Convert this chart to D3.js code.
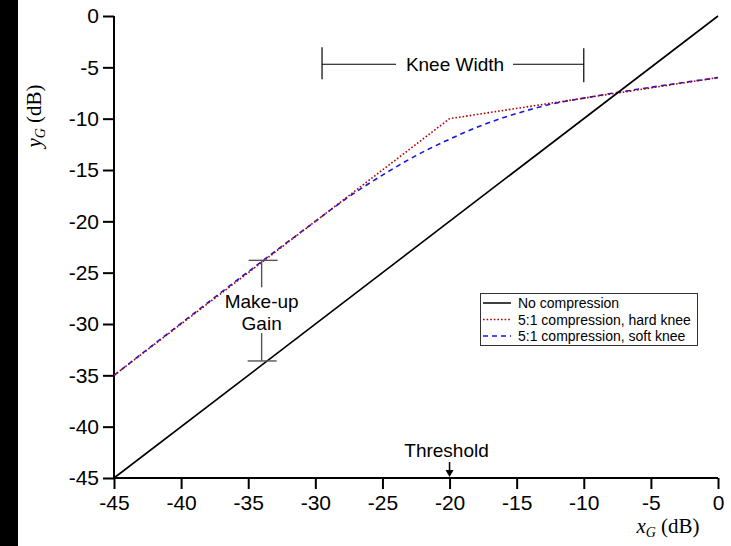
<!DOCTYPE html>
<html>
<head>
<meta charset="utf-8">
<script src="https://cdn.jsdelivr.net/npm/d3@7"></script>
<style>
  body { margin: 0; background: #fff; }
  svg { display: block; }
</style>
</head>
<body>
<div id="vis"></div>
<script>
// chart values
const xTicks = [-45, -40, -35, -30, -25, -20, -15, -10, -5, 0];
const yTicks = [0, -5, -10, -15, -20, -25, -30, -35, -40, -45];

const noCompX = [-45, 0];
const noCompY = [-45, 0];

const hardX = [-45, -20, 0];
const hardY = [-35, -10, -6];

const softX = [-45, -30, -27.5, -25, -22.5, -20, -17.5, -15, -12.5, -10, 0];
const softY = [-35, -20, -17.6, -15.5, -13.6, -12, -10.6, -9.5, -8.6, -8, -6];

const seriesNames = ['No compression', '5:1 compression, hard knee', '5:1 compression, soft knee'];

// annotations (data units)
const threshold = -20;
const kneeStart = -29.5, kneeEnd = -10, kneeY = -4.7;
const makeupX = -34, makeupTop = -23.8, makeupBottom = -33.6;

let W = 731, H = 546;
let svg = d3.select('#vis').append('svg')
  .attr('width', W)
  .attr('height', H);

// black strip on the left edge
svg.append('rect')
  .attr('x', 0).attr('y', 0)
  .attr('width', 18).attr('height', H)
  .attr('fill', '#000');

let x = d3.scaleLinear().domain([-45, 0]).range([114, 718]);
let y = d3.scaleLinear().domain([-45, 0]).range([478, 16]);

const sans = '"Liberation Sans", Arial, sans-serif';
const serif = '"Liberation Serif", "Times New Roman", serif';
const fmt = d => String(d); // plain hyphen minus like the original

// axes
let xAxis = svg.append('g')
  .attr('transform', 'translate(0,' + y(-45) + ')')
  .call(d3.axisBottom(x).tickValues(xTicks).tickFormat(fmt).tickSize(11).tickPadding(6).tickSizeOuter(0));
let yAxis = svg.append('g')
  .attr('transform', 'translate(' + x(-45) + ',0)')
  .call(d3.axisLeft(y).tickValues(yTicks).tickFormat(fmt).tickSize(11).tickPadding(4).tickSizeOuter(0));

[xAxis, yAxis].forEach(function(a) {
  a.selectAll('path, line').attr('stroke', '#000').attr('stroke-width', 2);
  a.selectAll('text').attr('fill', '#000').style('font-family', sans).style('font-size', '21px');
});
xAxis.select('path').attr('d', 'M' + (x(-45) - 1) + ',0H' + x(0));
yAxis.select('path').attr('d', 'M0,' + (y(-45) + 1) + 'V' + y(0));

// axis titles
let yt = svg.append('text')
  .attr('transform', 'translate(41,116) rotate(-90)')
  .attr('text-anchor', 'middle')
  .style('font-family', serif).style('font-size', '21px');
yt.append('tspan').style('font-style', 'italic').text('y');
yt.append('tspan').style('font-style', 'italic').style('font-size', '14px').attr('dy', 4).text('G');
yt.append('tspan').attr('dy', -4).text(' (dB)');

let xt = svg.append('text')
  .attr('x', 668).attr('y', 533)
  .attr('text-anchor', 'middle')
  .style('font-family', serif).style('font-size', '21px');
xt.append('tspan').style('font-style', 'italic').text('x');
xt.append('tspan').style('font-style', 'italic').style('font-size', '14px').attr('dy', 4).text('G');
xt.append('tspan').attr('dy', -4).text(' (dB)');

// lines
let line = d3.line().x(d => x(d[0])).y(d => y(d[1]));
let smooth = d3.line().x(d => x(d[0])).y(d => y(d[1])).curve(d3.curveMonotoneX);

svg.append('path')
  .datum(d3.zip(softX, softY))
  .attr('fill', 'none')
  .attr('stroke', '#1515e6')
  .attr('stroke-width', 1.6)
  .attr('stroke-dasharray', '5,4')
  .attr('d', smooth);

svg.append('path')
  .datum(d3.zip(hardX, hardY))
  .attr('fill', 'none')
  .attr('stroke', '#b00000')
  .attr('stroke-width', 1.6)
  .attr('stroke-dasharray', '1.6,2')
  .attr('d', line);

svg.append('path')
  .datum(d3.zip(noCompX, noCompY))
  .attr('fill', 'none')
  .attr('stroke', '#000')
  .attr('stroke-width', 1.6)
  .attr('d', line);

// knee width annotation
let kn = svg.append('g').attr('stroke', '#000').attr('stroke-width', 1.2);
kn.append('line').attr('x1', x(kneeStart)).attr('x2', x(kneeStart)).attr('y1', y(kneeY) - 17).attr('y2', y(kneeY) + 15);
kn.append('line').attr('x1', x(kneeEnd)).attr('x2', x(kneeEnd)).attr('y1', y(kneeY) - 16).attr('y2', y(kneeY) + 18);
kn.append('line').attr('x1', x(kneeStart)).attr('x2', 396).attr('y1', y(kneeY)).attr('y2', y(kneeY));
kn.append('line').attr('x1', 513).attr('x2', x(kneeEnd)).attr('y1', y(kneeY)).attr('y2', y(kneeY));
svg.append('text')
  .attr('x', 455).attr('y', y(kneeY) + 7)
  .attr('text-anchor', 'middle')
  .style('font-family', sans).style('font-size', '19px')
  .text('Knee Width');

// make-up gain annotation
let mg = svg.append('g').attr('stroke', '#555').attr('stroke-width', 1.4);
mg.append('line').attr('x1', x(makeupX) - 13).attr('x2', x(makeupX) + 16).attr('y1', y(makeupTop)).attr('y2', y(makeupTop));
mg.append('line').attr('x1', x(makeupX)).attr('x2', x(makeupX)).attr('y1', y(makeupTop)).attr('y2', y(makeupTop) + 27);
mg.append('line').attr('x1', x(makeupX)).attr('x2', x(makeupX)).attr('y1', y(makeupBottom) - 28).attr('y2', y(makeupBottom));
mg.append('line').attr('x1', x(makeupX) - 14).attr('x2', x(makeupX) + 15).attr('y1', y(makeupBottom)).attr('y2', y(makeupBottom));
svg.append('text')
  .attr('x', x(makeupX)).attr('y', 308)
  .attr('text-anchor', 'middle')
  .style('font-family', sans).style('font-size', '19px')
  .text('Make-up');
svg.append('text')
  .attr('x', x(makeupX)).attr('y', 330)
  .attr('text-anchor', 'middle')
  .style('font-family', sans).style('font-size', '19px')
  .text('Gain');

// threshold annotation
svg.append('text')
  .attr('x', x(threshold) - 3).attr('y', 457)
  .attr('text-anchor', 'middle')
  .style('font-family', sans).style('font-size', '19px')
  .text('Threshold');
svg.append('line')
  .attr('x1', x(threshold)).attr('x2', x(threshold))
  .attr('y1', 462).attr('y2', 474)
  .attr('stroke', '#000').attr('stroke-width', 1.5);
svg.append('path')
  .attr('d', 'M' + (x(threshold) - 4) + ',470L' + x(threshold) + ',477L' + (x(threshold) + 4) + ',470Z')
  .attr('fill', '#000');

// legend
let legend = svg.append('g');
legend.append('rect')
  .attr('x', 480.5).attr('y', 293.5)
  .attr('width', 217).attr('height', 52)
  .attr('fill', '#fff').attr('stroke', '#333').attr('stroke-width', 1);
let styles = [
  { stroke: '#000', dash: null },
  { stroke: '#b00000', dash: '1.6,2' },
  { stroke: '#1515e6', dash: '5,4' }
];
seriesNames.forEach(function(name, i) {
  let ly = 303 + i * 16.5;
  legend.append('line')
    .attr('x1', 483).attr('x2', 511).attr('y1', ly).attr('y2', ly)
    .attr('stroke', styles[i].stroke).attr('stroke-width', 1.5)
    .attr('stroke-dasharray', styles[i].dash);
  legend.append('text')
    .attr('x', 518).attr('y', ly + 5)
    .style('font-family', sans).style('font-size', '14px')
    .text(name);
});
</script>
</body>
</html>
